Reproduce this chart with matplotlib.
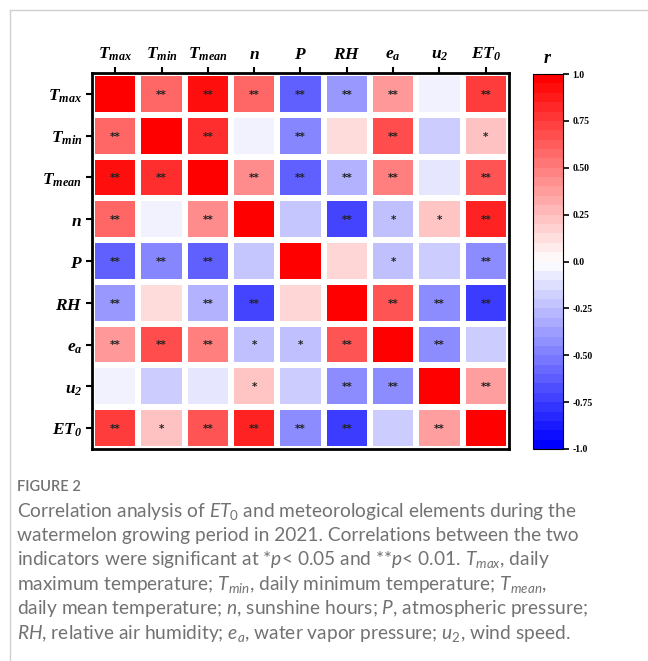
import numpy as np
import matplotlib
matplotlib.use("Agg")
import matplotlib.pyplot as plt
from matplotlib.colors import Normalize
from matplotlib.cm import ScalarMappable
from matplotlib.lines import Line2D

plt.rcParams['mathtext.fontset'] = 'custom'
plt.rcParams['mathtext.bfit'] = 'Liberation Serif:bold:italic'
plt.rcParams['mathtext.it'] = 'Lato:italic'
plt.rcParams['mathtext.rm'] = 'Lato'

# variables (rows/cols in same order)
labels = [r'$\mathbfit{T_{max}}$', r'$\mathbfit{T_{min}}$', r'$\mathbfit{T_{mean}}$',
          r'$\mathbfit{n}$', r'$\mathbfit{P}$', r'$\mathbfit{RH}$',
          r'$\mathbfit{e_{a}}$', r'$\mathbfit{u_{2}}$', r'$\mathbfit{ET_{0}}$']

# correlation coefficients
r_tmax  = [1.00, 0.60, 0.94, 0.60, -0.62, -0.40, 0.40, -0.05, 0.76]
r_tmin  = [0.60, 1.00, 0.82, -0.05, -0.47, 0.14, 0.70, -0.20, 0.24]
r_tmean = [0.94, 0.82, 1.00, 0.45, -0.62, -0.30, 0.50, -0.10, 0.67]
r_n     = [0.60, -0.05, 0.45, 1.00, -0.22, -0.73, -0.25, 0.23, 0.86]
r_p     = [-0.62, -0.47, -0.62, -0.22, 1.00, 0.16, -0.25, -0.20, -0.45]
r_rh    = [-0.40, 0.14, -0.30, -0.73, 0.16, 1.00, 0.67, -0.45, -0.76]
r_ea    = [0.40, 0.70, 0.50, -0.25, -0.25, 0.67, 1.00, -0.45, -0.20]
r_u2    = [-0.05, -0.20, -0.10, 0.23, -0.20, -0.45, -0.45, 1.00, 0.38]
r_et0   = [0.76, 0.24, 0.67, 0.86, -0.45, -0.76, -0.20, 0.38, 1.00]

# significance marks
s_tmax  = ['', '**', '**', '**', '**', '**', '**', '', '**']
s_tmin  = ['**', '', '**', '', '**', '', '**', '', '*']
s_tmean = ['**', '**', '', '**', '**', '**', '**', '', '**']
s_n     = ['**', '', '**', '', '', '**', '*', '*', '**']
s_p     = ['**', '**', '**', '', '', '', '*', '', '**']
s_rh    = ['**', '', '**', '**', '', '', '**', '**', '**']
s_ea    = ['**', '**', '**', '*', '*', '**', '', '**', '']
s_u2    = ['', '', '', '*', '', '**', '**', '', '**']
s_et0   = ['**', '*', '**', '**', '**', '**', '', '**', '']

corr = np.array([r_tmax, r_tmin, r_tmean, r_n, r_p, r_rh, r_ea, r_u2, r_et0])
sig = [s_tmax, s_tmin, s_tmean, s_n, s_p, s_rh, s_ea, s_u2, s_et0]

fig = plt.figure(figsize=(6.48, 6.61), dpi=100)
W, H = 648, 661

def box(x0, y0, x1, y1):
    return [x0 / W, 1 - y1 / H, (x1 - x0) / W, (y1 - y0) / H]

ax = fig.add_axes(box(92, 73, 509, 449))
norm = Normalize(-1, 1)
n = len(labels)
ax.pcolormesh(np.arange(n + 1), np.arange(n + 1), corr, cmap='bwr', norm=norm,
              edgecolors='white', linewidth=3)
ax.set_xlim(0, n)
ax.set_ylim(n, 0)
for i in range(n):
    for j in range(n):
        if sig[i][j]:
            ax.text(j + 0.5, i + 0.52, sig[i][j], ha='center', va='center',
                    fontsize=7.5, fontweight='bold', color='#222222')

ax.set_xticks(np.arange(n) + 0.5)
ax.set_yticks(np.arange(n) + 0.5)
ax.set_xticklabels(labels, fontsize=12.5)
ax.set_yticklabels(labels, fontsize=12.5)
ax.xaxis.tick_top()
ax.tick_params(direction='out', length=4, width=1.5, pad=3)
for sp in ax.spines.values():
    sp.set_linewidth(2)

# colorbar
cax = fig.add_axes(box(533, 74, 563, 449))
cb = fig.colorbar(ScalarMappable(norm=norm, cmap=plt.get_cmap('bwr', 40)), cax=cax)
cb.set_ticks([1, 0.75, 0.5, 0.25, 0, -0.25, -0.5, -0.75, -1])
cb.set_ticklabels(['1.0', '0.75', '0.50', '0.25', '0.0', '-0.25', '-0.50', '-0.75', '-1.0'])
cb.outline.set_linewidth(0.8)
cax.tick_params(direction='out', length=4, width=1.2, labelsize=7, pad=3)
for t in cax.get_yticklabels():
    t.set_fontfamily('Liberation Serif')
    t.set_fontweight('bold')
cax.set_title(r'$\mathbfit{r}$', fontsize=13, pad=8)

# card border
fig.add_artist(Line2D([10 / W, 1], [1 - 10 / H, 1 - 10 / H], color='#d0d0d0', lw=1))
fig.add_artist(Line2D([10 / W, 10 / W], [1 - 10 / H, 0], color='#d0d0d0', lw=1))

# caption
grey = '#727272'
fig.text(17 / W, 1 - 487 / H, 'FIGURE 2', fontsize=10.5, color=grey,
         family='Lato', fontweight='semibold', va='center')
caption = [
    r'Correlation analysis of $\mathit{ET}_\mathrm{0}$ and meteorological elements during the',
    'watermelon growing period in 2021. Correlations between the two',
    r'indicators were significant at *$\mathit{p}$< 0.05 and **$\mathit{p}$< 0.01. $\mathit{T_{max}}$, daily',
    r'maximum temperature; $\mathit{T_{min}}$, daily minimum temperature; $\mathit{T_{mean}}$,',
    r'daily mean temperature; $\mathit{n}$, sunshine hours; $\mathit{P}$, atmospheric pressure;',
    r'$\mathit{RH}$, relative air humidity; $\mathit{e_{a}}$, water vapor pressure; $\mathit{u}_\mathrm{2}$, wind speed.',
]
for k, line in enumerate(caption):
    fig.text(17 / W, 1 - (511 + 24.4 * k) / H, line, fontsize=13.8, color=grey,
             family='Lato', va='center')

fig.savefig('out.png', dpi=100)
